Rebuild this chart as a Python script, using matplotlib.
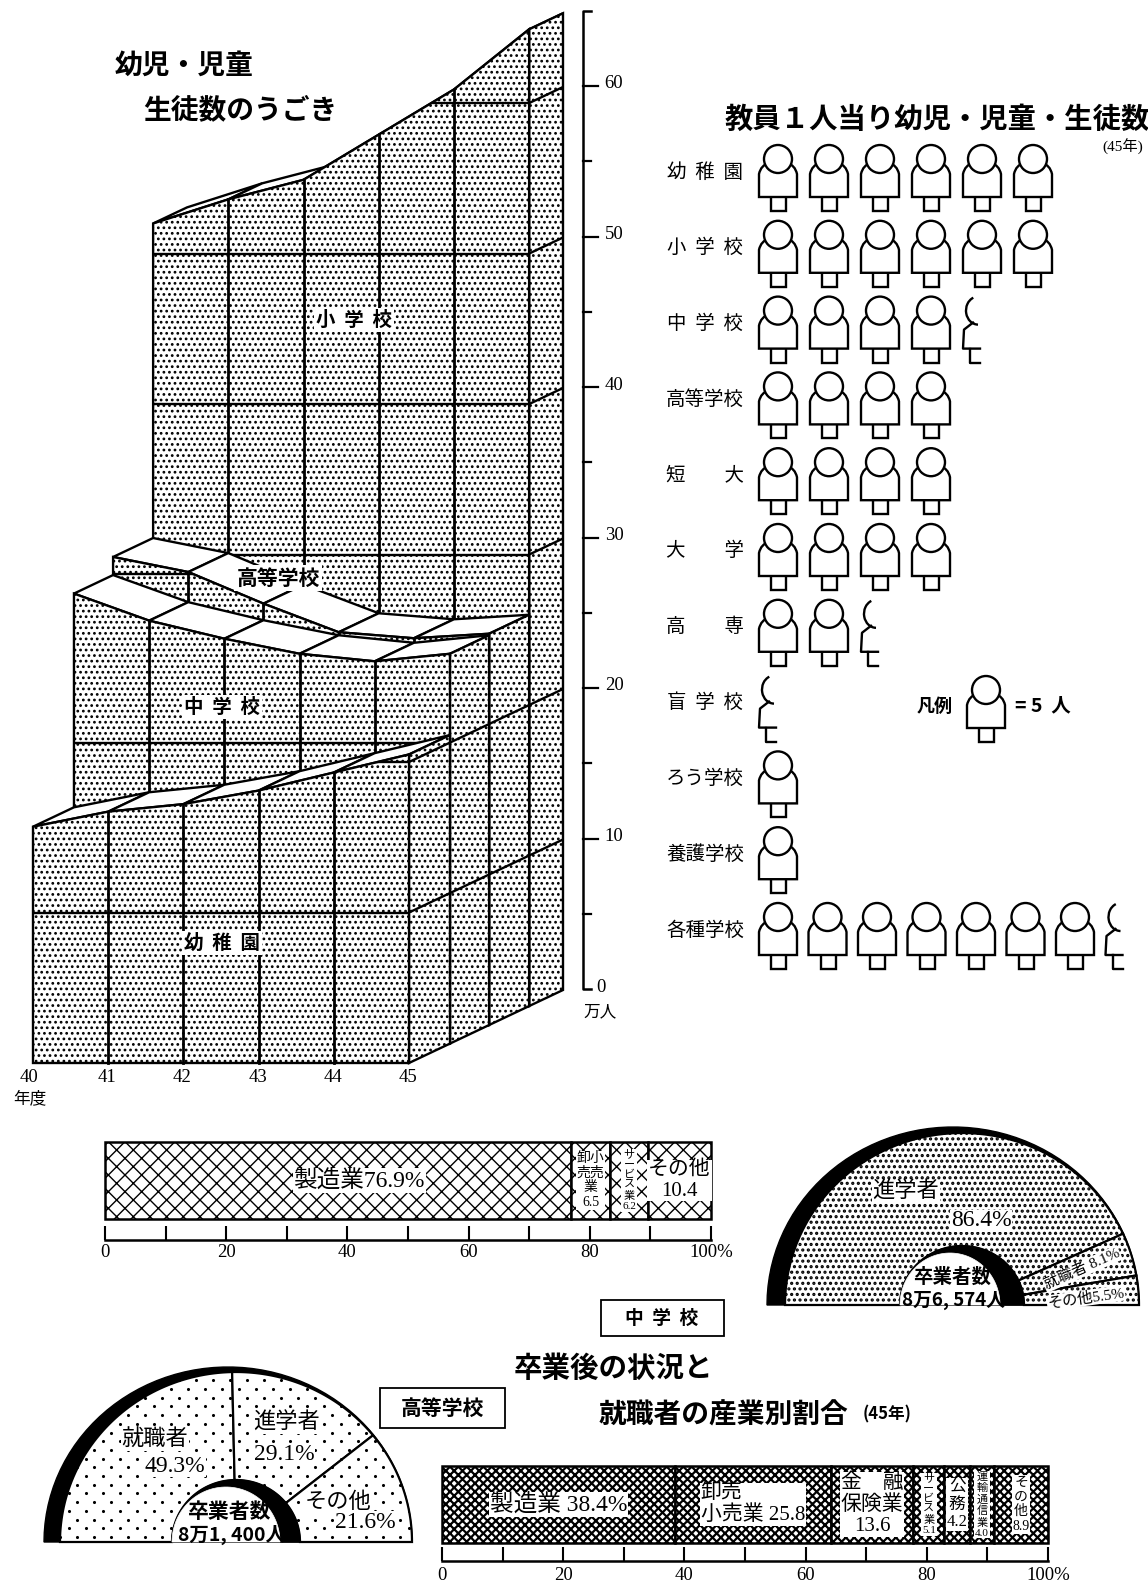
import numpy as np
import matplotlib
matplotlib.use('Agg')
import matplotlib.pyplot as plt
from matplotlib.patches import Polygon, Circle, Arc, Rectangle
from matplotlib.path import Path
from matplotlib.patches import PathPatch

W, H = 1148, 1586
SERIF = ['Liberation Serif', 'Noto Sans CJK JP']
SANS = ['Noto Sans CJK JP', 'DejaVu Sans']

# 幼児・児童・生徒数 (万人, stacked height of each slab)
years = [40, 41, 42, 43, 44, 45]
kinder_top = [15.7, 16.7, 17.2, 18.1, 19.3, 20.5]
middle_top = [29.9, 28.1, 26.9, 25.9, 25.4, 25.9]
high_top = [31.1, 30.1, 28.0, 26.1, 25.7, 26.0]
primary_top = [52.0, 53.6, 54.9, 57.9, 60.9, 64.9]
axis_ticks = [0, 10, 20, 30, 40, 50, 60]

# 教員1人当り (人)
school_labels = ['幼  稚  園', '小  学  校', '中  学  校', '高等学校', '短　　大', '大　　学',
                 '高　　専', '盲  学  校', 'ろう学校', '養護学校', '各種学校']
per_teacher = [30, 30, 22.5, 20, 20, 20, 12.5, 2.5, 5, 5, 37.5]

# 卒業後の状況
mid_course = [86.4, 8.1, 5.5]
high_course = [49.3, 29.1, 21.6]

# 就職者の産業別割合
mid_ind = [76.9, 6.5, 6.2, 10.4]
mid_ind_labels = ['製造業76.9%', '卸小\n売売\n業\n6.5', 'サ\nー\nビ\nス\n業\n6.2', 'その他\n10.4']
high_ind = [38.4, 25.8, 13.6, 5.1, 4.2, 4.0, 8.9]
high_ind_labels = ['製造業 38.4%', '卸売\n小売業 25.8', '金　融\n保険業\n13.6',
                   'サ\nー\nビ\nス\n業\n5.1', '公\n務\n4.2', '運\n輸\n通\n信\n業\n4.0',
                   'そ\nの\n他\n8.9']
pct_ticks = [0, 20, 40, 60, 80, 100]

fig = plt.figure(figsize=(W / 100, H / 100), dpi=100, facecolor='white')
ax = fig.add_axes([0, 0, 1, 1])
ax.set_xlim(0, W)
ax.set_ylim(H, 0)
ax.set_aspect('equal')
ax.axis('off')


def txt(x, y, s, size=12, bold=False, fam=SANS, **kw):
    kw.setdefault('ha', 'center')
    kw.setdefault('va', 'center')
    kw.setdefault('zorder', 100)
    return ax.text(x, y, s, fontsize=size, family=fam,
                   fontweight='bold' if bold else 'normal', **kw)


# ---- 3D stepped chart ----
X0, Y0 = 33, 1063
YEAR_W = 75.2
DEPTH_X, DEPTH_Y = 154, 73
UNIT = 15.05


def proj(i, d, v):
    return X0 + i * YEAR_W + d * DEPTH_X, Y0 - d * DEPTH_Y - v * UNIT


plt.rcParams['hatch.linewidth'] = 1.2
slabs = [(0.78, 1.0, primary_top), (0.52, 0.78, high_top),
         (0.266, 0.52, middle_top), (0.0, 0.266, kinder_top)]
last = len(years) - 1
LW = 1.7
z = 2
for d0, d1, top in slabs:
    # top surface
    for i in range(last):
        pts = [proj(i, d0, top[i]), proj(i + 1, d0, top[i + 1]),
               proj(i + 1, d1, top[i + 1]), proj(i, d1, top[i])]
        ax.add_patch(Polygon(pts, closed=True, fc='white', ec='black', lw=LW, zorder=z))
    # right side
    pts = [proj(last, d0, 0), proj(last, d1, 0), proj(last, d1, top[last]), proj(last, d0, top[last])]
    side = Polygon(pts, closed=True, fc='white', ec='black', lw=LW, hatch='...', zorder=z + 1)
    ax.add_patch(side)
    for v in range(10, 70, 10):
        if v < top[last]:
            xs, ys = zip(proj(last, d0, v), proj(last, d1, v))
            ax.plot(xs, ys, color='black', lw=LW, clip_path=side, zorder=z + 2)
    # front
    pts = [proj(0, d0, 0)] + [proj(i, d0, top[i]) for i in range(len(years))] + [proj(last, d0, 0)]
    front = Polygon(pts, closed=True, fc='white', ec='black', lw=LW, hatch='...', zorder=z + 3)
    ax.add_patch(front)
    for v in range(10, 70, 10):
        xs, ys = zip(proj(0, d0, v), proj(last, d0, v))
        ax.plot(xs, ys, color='black', lw=LW, clip_path=front, zorder=z + 4)
    for i in range(1, last):
        xs, ys = zip(proj(i, d0, 0), proj(i, d0, top[i]))
        ax.plot(xs, ys, color='black', lw=LW + 0.3, zorder=z + 4)
    z += 5

for i, yr in enumerate(years):
    x, y = proj(i, 0, 0)
    txt(x - (4 if i == 0 else 1), y + 15, str(yr), 13.5, fam=SERIF)
txt(30, 1099, '年度', 12, fam=SERIF)

# axis at right
AX_X, AX_Y0 = 583, 989
ax.plot([AX_X + 8, AX_X, AX_X, AX_X + 8], [AX_Y0, AX_Y0, AX_Y0 - 65 * UNIT, AX_Y0 - 65 * UNIT],
        color='black', lw=1.8, solid_joinstyle='round')
for v in range(5, 65, 5):
    ax.plot([AX_X, AX_X + (15 if v % 10 == 0 else 8)], [AX_Y0 - v * UNIT] * 2, color='black', lw=1.6)
for v in axis_ticks:
    txt(AX_X + 31 if v else AX_X + 18, AX_Y0 - v * UNIT - 2, str(v), 13.5, fam=SERIF)
txt(600, 1012, '万人', 12, fam=SERIF)

white_box = dict(fc='white', ec='none', pad=1.5)
txt(354, 320, '小  学  校', 14, bold=True, bbox=white_box)
txt(278, 578, '高等学校', 15, bold=True, bbox=white_box)
txt(222, 707, '中  学  校', 14, bold=True, bbox=white_box)
txt(222, 943, '幼  稚  園', 14, bold=True, bbox=white_box)
txt(184, 66, '幼児・児童', 20, bold=True)
txt(240, 110, '生徒数のうごき', 20, bold=True)


# ---- pictogram ----
def person(cx, cy):
    lw = 1.7
    ax.add_patch(Rectangle((cx - 7, cy + 24), 15, 15, fc='white', ec='black', lw=lw))
    verts = [(cx - 19, cy + 25), (cx - 19, cy + 2), (cx - 17, cy - 7), (cx - 9, cy - 9),
             (cx + 9, cy - 9), (cx + 17, cy - 7), (cx + 19, cy + 2), (cx + 19, cy + 25), (cx - 19, cy + 25)]
    codes = [Path.MOVETO, Path.LINETO, Path.CURVE3, Path.CURVE3, Path.LINETO,
             Path.CURVE3, Path.CURVE3, Path.LINETO, Path.CLOSEPOLY]
    ax.add_patch(PathPatch(Path(verts, codes), fc='white', ec='black', lw=lw))
    ax.add_patch(Circle((cx, cy - 13), 14, fc='white', ec='black', lw=lw))


def half_person(cx, cy):
    lw = 1.7
    ax.add_patch(Arc((cx - 4, cy - 13), 24, 28, theta1=90, theta2=250, ec='black', lw=lw))
    ax.plot([cx - 9, cx - 18, cx - 19, cx - 2], [cy - 1, cy + 6, cy + 25, cy + 25], color='black', lw=lw)
    ax.plot([cx - 12, cx - 12, cx - 2], [cy + 25, cy + 39, cy + 39], color='black', lw=lw)


ROW_Y = 172
ROW_H = 75.8
ICON_X = 778
ICON_W = 51
PER_ICON = 5
for r, (lab, val) in enumerate(zip(school_labels, per_teacher)):
    y = ROW_Y + r * ROW_H
    txt(705, y, lab, 14)
    full = int(val // PER_ICON)
    step = 49.5 if full > 6 else ICON_W
    for k in range(full):
        person(ICON_X + k * step, y)
    if val % PER_ICON:
        half_person(ICON_X + full * step, y)

txt(937, 120, '教員１人当り幼児・児童・生徒数', 20.4, bold=True, clip_on=False)
txt(1123, 147, '(45年)', 11, fam=SERIF)
txt(935, 706, '凡例', 13, bold=True)
person(986, 703)
txt(1043, 706, '= 5  人', 14, bold=True)


# ---- half circle charts ----
def ell(shape, cy, t0=0, t1=180, n=60):
    cx, rx, ry = shape
    t = np.radians(np.linspace(t0, t1, n))
    return np.column_stack([cx + rx * np.cos(t), cy - ry * np.sin(t)])


def stipple(patch, x0, x1, y0, y1, dx, dy, size):
    # brick pattern for the coarse screen, hatch cannot do unequal pitch
    for k, yy in enumerate(np.arange(y1 - 5, y0, -dy)):
        xx = np.arange(x0 + (dx / 2 if k % 2 else 0), x1, dx)
        dots = ax.scatter(xx, np.full(len(xx), yy), s=size, c='black', linewidths=0, zorder=patch.get_zorder())
        dots.set_clip_path(patch)


def dome(values, cy, outer_black, outer, inner_black, inner_white, hatch, screen=None):
    ax.add_patch(Polygon(ell(outer_black, cy), closed=True, fc='black', ec='black', lw=1))
    start = 180.0
    for v in values:
        end = start - 180.0 * v / 100
        pts = np.vstack([ell(outer, cy, start, end), ell(inner_black, cy, end, start)])
        seg = Polygon(pts, closed=True, fc='white', ec='black', lw=1.6, hatch=hatch)
        ax.add_patch(seg)
        if screen:
            stipple(seg, outer[0] - outer[1], outer[0] + outer[1], cy - outer[2], cy, *screen)
        start = end
    ax.add_patch(Polygon(ell(inner_black, cy), closed=True, fc='black', ec='black', lw=1))
    ax.add_patch(Polygon(ell(inner_white, cy), closed=True, fc='white', ec='white', lw=0.5))


plt.rcParams['hatch.linewidth'] = 1.5
dome(mid_course, 1305, (953, 186, 178), (962, 177, 172), (962, 62, 59), (950, 50, 52), '...')
dome(high_course, 1542, (228, 184, 175), (236, 176, 170), (236, 64, 62), (226, 54, 55), None,
     screen=(17, 8.7, 5))

wb = dict(fc='white', ec='none', pad=0.5)
txt(906, 1192, '進学者', 16, fam=SERIF, bbox=wb)
txt(981, 1221, '86.4%', 17, fam=SERIF, bbox=wb)
txt(952, 1277, '卒業者数', 14, bold=True)
txt(954, 1300, '8万6, 574人', 13.5, bold=True)
txt(1082, 1269, '就職者 8.1%', 11, fam=SERIF, rotation=24, bbox=wb)
txt(1086, 1298, 'その他5.5%', 11, fam=SERIF, rotation=8, bbox=wb)

txt(155, 1440, '就職者', 16, fam=SERIF, bbox=wb)
txt(175, 1466, '49.3%', 17, fam=SERIF, bbox=wb)
txt(287, 1423, '進学者', 16, fam=SERIF, bbox=wb)
txt(284, 1455, '29.1%', 17, fam=SERIF, bbox=wb)
txt(338, 1503, 'その他', 16, fam=SERIF, bbox=wb)
txt(365, 1522, '21.6%', 17, fam=SERIF, bbox=wb)
txt(230, 1512, '卒業者数', 15, bold=True)
txt(232, 1535, '8万1, 400人', 14, bold=True)

# boxes and titles
ax.add_patch(Rectangle((601, 1300), 123, 36, fc='white', ec='black', lw=1.3))
txt(662, 1318, '中  学  校', 13.5, bold=True)
ax.add_patch(Rectangle((380, 1388), 125, 40, fc='white', ec='black', lw=1.3))
txt(442, 1408, '高等学校', 15, bold=True)
txt(613, 1369, '卒業後の状況と', 20.5, bold=True)
txt(723, 1416, '就職者の産業別割合', 20, bold=True)
txt(887, 1414, '(45年)', 12, bold=True)


# ---- industry bars ----
def stacked_bar(rect, values, labels, hatch, sizes, shifts, tick_gap, tick_len, lab_pad):
    x0, y0, x1, y1 = rect
    b = fig.add_axes([x0 / W, 1 - y1 / H, (x1 - x0) / W, (y1 - y0) / H], facecolor='none')
    left = 0
    for v, lab, size, sh in zip(values, labels, sizes, shifts):
        b.barh(0, v, left=left, height=1, fc='white', ec='black', lw=1.8, hatch=hatch, clip_on=False)
        b.text(left + v / 2 + sh, 0, lab, fontsize=size, family=SERIF, ha='center', va='center',
               multialignment='left' if lab.startswith('卸売') else 'center',
               linespacing=1.15, bbox=dict(fc='white', ec='none', pad=0.6), zorder=5)
        left += v
    b.set_xlim(0, 100)
    b.set_ylim(-0.5, 0.5)
    b.set_yticks([])
    for s in ['top', 'left', 'right']:
        b.spines[s].set_visible(False)
    b.spines['bottom'].set_position(('outward', tick_gap))
    b.spines['bottom'].set_linewidth(1.8)
    b.set_xticks(pct_ticks)
    b.set_xticklabels([str(t) if t < 100 else '100%' for t in pct_ticks], fontsize=13.5, family=SERIF)
    b.set_xticks(range(10, 100, 20), minor=True)
    b.tick_params(axis='x', which='major', direction='in', length=tick_len, width=1.5, pad=lab_pad)
    b.tick_params(axis='x', which='minor', direction='in', length=tick_len, width=1.5)
    return b


plt.rcParams['hatch.linewidth'] = 1.0
stacked_bar((105, 1142, 711, 1219), mid_ind, mid_ind_labels, 'xx',
            [17, 10, 8, 15], [3.5, 0, 0, 0], 15, 10, 3)
plt.rcParams['hatch.linewidth'] = 1.6
stacked_bar((442, 1466, 1048, 1543), high_ind, high_ind_labels, 'xxxx',
            [17, 15, 15, 8, 12, 8, 10], [0, 0, 0, 0, 0, 0, 0], 13, 10, 4)

fig.savefig('out.png', dpi=100, facecolor='white')
